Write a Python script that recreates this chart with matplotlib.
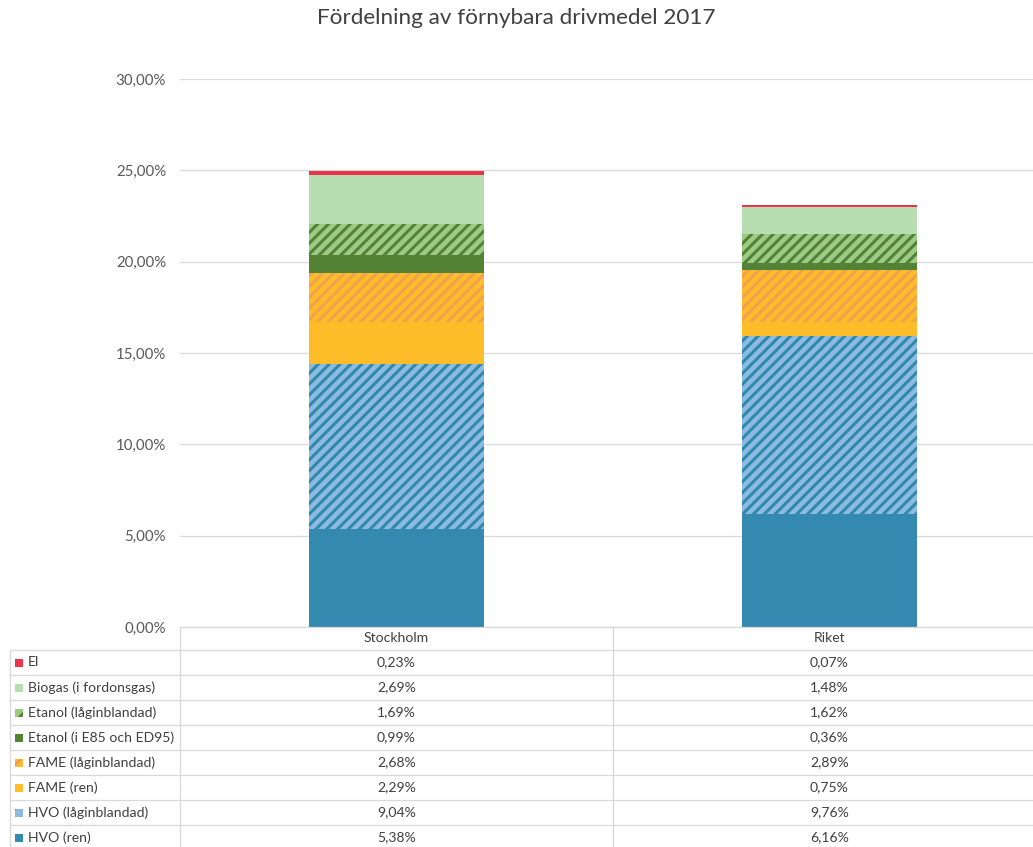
import matplotlib.pyplot as plt
from matplotlib.patches import Rectangle
from matplotlib.lines import Line2D

DPI = 130
W, H = 1033, 847


def pt(px):
    # pixel size -> points at the chosen dpi
    return px * 72.0 / DPI


plt.rcParams['font.family'] = ['Lato', 'DejaVu Sans']
plt.rcParams['hatch.linewidth'] = pt(3.0)

categories = ['Stockholm', 'Riket']

# stacked bottom -> top
series = ['HVO (ren)', 'HVO (låginblandad)', 'FAME (ren)', 'FAME (låginblandad)',
          'Etanol (i E85 och ED95)', 'Etanol (låginblandad)', 'Biogas (i fordonsgas)', 'El']
hvo_ren = [5.38, 6.16]
hvo_lag = [9.04, 9.76]
fame_ren = [2.29, 0.75]
fame_lag = [2.68, 2.89]
etanol_e85 = [0.99, 0.36]
etanol_lag = [1.69, 1.62]
biogas = [2.69, 1.48]
el = [0.23, 0.07]
values = [hvo_ren, hvo_lag, fame_ren, fame_lag, etanol_e85, etanol_lag, biogas, el]

face_colors = ['#3389AF', '#8DBAE0', '#FDBD29', '#FDBD29', '#548235', '#9CCB86', '#B7DDB1', '#E8344C']
hatch_colors = [None, '#2E89AC', None, '#F2A050', None, '#548235', None, None]

yticks = [0, 5, 10, 15, 20, 25, 30]

title = 'Fördelning av förnybara drivmedel 2017'

txt = '#404040'
grid = '#D9D9D9'

fig = plt.figure(figsize=(W / DPI, H / DPI), dpi=DPI)
fig.patch.set_facecolor('white')

# axes run on past the right edge, like the table columns
ax = fig.add_axes([180 / W, (H - 627) / H, 866 / W, (627 - 79) / H])

x = list(range(len(categories)))
bottom = [0.0] * len(categories)
for name, vals, fc, hc in zip(series, values, face_colors, hatch_colors):
    if hc:
        ax.bar(x, vals, 0.404, bottom=bottom, facecolor=fc, edgecolor=hc,
               hatch='////', linewidth=0, zorder=3)
    else:
        ax.bar(x, vals, 0.404, bottom=bottom, color=fc, linewidth=0, zorder=3)
    bottom = [b + v for b, v in zip(bottom, vals)]

ax.set_xlim(-0.5, 1.5)
ax.set_ylim(0, 30)
ax.set_yticks(yticks)
ax.set_yticklabels([('%.2f%%' % t).replace('.', ',') for t in yticks])
ax.set_xticks([])
ax.tick_params(axis='y', length=0, pad=pt(14), labelsize=pt(15), labelcolor='#595959')
ax.yaxis.grid(True, color=grid, linewidth=pt(1.3), zorder=0)
for s in ax.spines.values():
    s.set_visible(False)

fig.text(0.5, 1 - 18 / H, title, ha='center', va='center', fontsize=pt(22.5), color=txt)


def fx(px):
    return px / W


def fy(py):
    return 1 - py / H


def line(x0, y0, x1, y1):
    fig.add_artist(Line2D([fx(x0), fx(x1)], [fy(y0), fy(y1)], transform=fig.transFigure,
                          color=grid, linewidth=pt(1.3)))


# data table under the axis
col_x = [180, 613, 1046]
col_c = [(col_x[i] + col_x[i + 1]) / 2 for i in range(len(categories))]
head_top, head_bot, row_h = 627, 650, 25
n_rows = len(series)

line(180, head_top, W, head_top)
for i in range(n_rows + 1):
    yy = head_bot + i * row_h
    line(10, yy, W, yy)
line(10, head_bot, 10, H)
line(180, head_top, 180, H)
line(613, head_top, 613, H)

for j, cat in enumerate(categories):
    fig.text(fx(col_c[j]), fy((head_top + head_bot) / 2), cat, ha='center', va='center',
             fontsize=pt(14), color=txt)

rows = list(range(n_rows))[::-1]
for r, i in enumerate(rows):
    yc = head_bot + r * row_h + row_h / 2
    key = Rectangle((fx(15), fy(yc + 4)), 8 / W, 8 / H, transform=fig.transFigure,
                    facecolor=face_colors[i], linewidth=0)
    if hatch_colors[i]:
        key.set_hatch('/')
        key.set_edgecolor(hatch_colors[i])
    fig.add_artist(key)
    fig.text(fx(28), fy(yc), series[i], ha='left', va='center', fontsize=pt(14), color=txt)
    for j in range(len(categories)):
        s = ('%.2f%%' % values[i][j]).replace('.', ',')
        fig.text(fx(col_c[j]), fy(yc), s, ha='center', va='center', fontsize=pt(14), color=txt)

fig.savefig('out.png', dpi=DPI)
